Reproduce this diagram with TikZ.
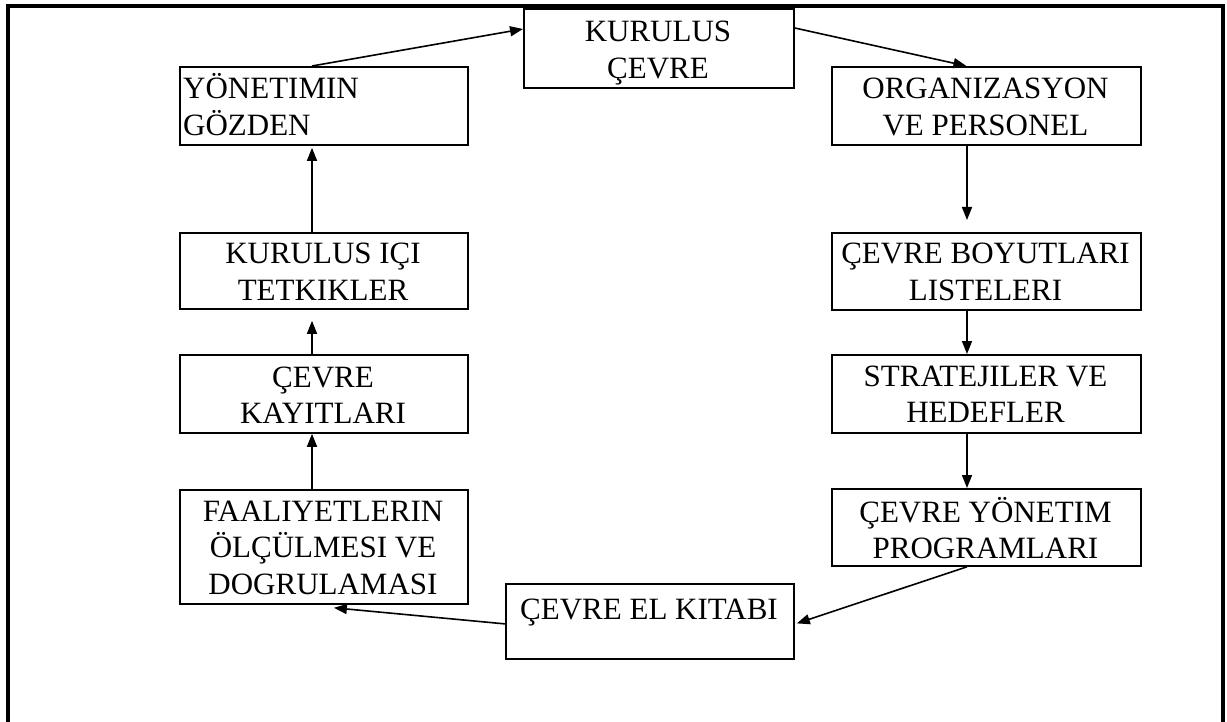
\documentclass[tikz,border=0pt]{standalone}
\usepackage{fontspec}
\setmainfont{Liberation Serif}
\usetikzlibrary{arrows.meta,calc}
\begin{document}
\begin{tikzpicture}[x=1pt,y=-1pt,
  box/.style={draw, line width=1.8pt, inner sep=0pt, anchor=north west},
  lbl/.style={inner sep=0pt, anchor=base, font=\fontsize{31}{36.7}\selectfont},
  link/.style={line width=1.6pt, -{Triangle[length=13pt,width=10pt]}}]
\useasboundingbox (0,0) rectangle (1227,722);

% outer frame (open at the bottom edge of the page)
\draw[line width=4pt] (8.3,730) -- (8.3,5.7) -- (1222.8,5.7) -- (1222.8,730);

% boxes
\node[box, minimum width=270pt, minimum height=79pt]  (kur) at (523,8)   {};
\node[box, minimum width=288pt, minimum height=78pt]  (yon) at (179,66)  {};
\node[box, minimum width=309pt, minimum height=78pt]  (org) at (831,66)  {};
\node[box, minimum width=288pt, minimum height=76pt]  (tet) at (179,232) {};
\node[box, minimum width=309pt, minimum height=77pt]  (boy) at (831,232) {};
\node[box, minimum width=288pt, minimum height=78pt]  (kay) at (179,354) {};
\node[box, minimum width=309pt, minimum height=78pt]  (str) at (831,354) {};
\node[box, minimum width=288pt, minimum height=114pt] (faa) at (179,489) {};
\node[box, minimum width=309pt, minimum height=77pt]  (prg) at (831,488) {};
\node[box, minimum width=288pt, minimum height=75pt]  (kit) at (505,583) {};

% box texts (anchored at the baseline of their first line)
\node[lbl] (kur-t) at (658,42) {\begin{tabular}[t]{@{}c@{}}KURULUS\\ÇEVRE\end{tabular}};
\node[lbl, anchor=base west] (yon-t) at (183,99) {\begin{tabular}[t]{@{}l@{}}YÖNETIMIN\\GÖZDEN\end{tabular}};
\node[lbl] (org-t) at (985.5,99) {\begin{tabular}[t]{@{}c@{}}ORGANIZASYON\\VE PERSONEL\end{tabular}};
\node[lbl] (tet-t) at (323,264) {\begin{tabular}[t]{@{}c@{}}KURULUS IÇI\\TETKIKLER\end{tabular}};
\node[lbl] (boy-t) at (985.5,264) {\begin{tabular}[t]{@{}c@{}}ÇEVRE BOYUTLARI\\LISTELERI\end{tabular}};
\node[lbl] (kay-t) at (323,387) {\begin{tabular}[t]{@{}c@{}}ÇEVRE\\KAYITLARI\end{tabular}};
\node[lbl] (str-t) at (985.5,386) {\begin{tabular}[t]{@{}c@{}}STRATEJILER VE\\HEDEFLER\end{tabular}};
\node[lbl] (faa-t) at (323,521) {\begin{tabular}[t]{@{}c@{}}FAALIYETLERIN\\ÖLÇÜLMESI VE\\DOGRULAMASI\end{tabular}};
\node[lbl] (prg-t) at (985.5,522) {\begin{tabular}[t]{@{}c@{}}ÇEVRE YÖNETIM\\PROGRAMLARI\end{tabular}};
\node[lbl] (kit-t) at (649,619) {ÇEVRE EL KITABI};

% columns carrying the vertical connectors
\coordinate (cl) at (312,0);
\coordinate (cr) at (967,0);

% connectors
\draw[link] (yon.north -| cl) -- ($(kur.north west)+(0,21)$);
\draw[link] ($(kur.north east)+(0,20)$) -- ($(org.north)+(-20,0)$);
\draw[link, shorten >=12pt] (org.south -| cr) -- (boy.north -| cr);
\draw[link] (boy.south -| cr) -- (str.north -| cr);
\draw[link] (str.south -| cr) -- (prg.north -| cr);
\draw[link] (prg.south -| cr) -- ($(kit.east)+(2,2)$);
\draw[link] ($(kit.west)+(0,2.5)$) -- ($(faa.south)+(10,3)$);
\draw[link] (faa.north -| cl) -- (kay.south -| cl);
\draw[link, shorten >=11pt] (kay.north -| cl) -- (tet.south -| cl);
\draw[link, shorten >=2pt] (tet.north -| cl) -- (yon.south -| cl);
\end{tikzpicture}
\end{document}
